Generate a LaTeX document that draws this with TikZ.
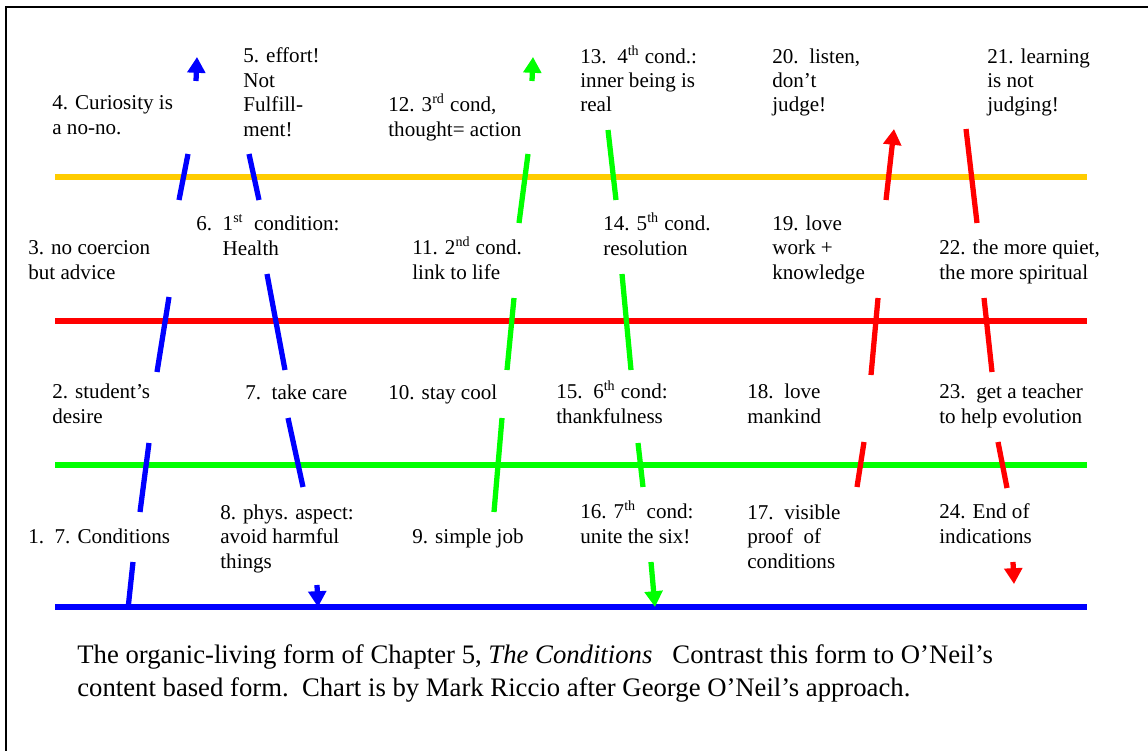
\documentclass[tikz,border=0pt]{standalone}
\usepackage{fontspec}
\setmainfont{Liberation Serif}
\usepackage{xcolor}
\usetikzlibrary{arrows.meta}
\definecolor{ochre}{RGB}{255,204,0}
\definecolor{fullred}{RGB}{255,0,0}
\definecolor{fullgreen}{RGB}{0,255,0}
\definecolor{fullblue}{RGB}{0,0,255}
\tikzset{
    lbl/.style={align=left, inner sep=0pt, anchor=base west, font=\fontsize{12}{13.9}\selectfont},
    capt/.style={align=left, inner sep=0pt, anchor=base west, font=\fontsize{15.2}{18.7}\selectfont},
    hline/.style={line width=3.4pt},
    stroke/.style={line width=3pt},
    tip/.style={-{Triangle[width=10pt,length=9pt]}},
}

\begin{document}
\begin{tikzpicture}[x=0.02cm, y=-0.02cm]
    \newcommand\yYel{177}
    \newcommand\yRed{321}
    \newcommand\yGrn{465}
    \newcommand\yBlu{607}

    \useasboundingbox (0,0) rectangle (1148,750);
    \draw[line width=1.1pt] (6,7) rectangle (1170,770);

    % the four levels
    \draw[hline, ochre] (55,\yYel) -- (1087,\yYel);
    \draw[hline, fullred] (55,\yRed) -- (1087,\yRed);
    \draw[hline, fullgreen] (55,\yGrn) -- (1087,\yGrn);
    \draw[hline, fullblue] (55,\yBlu) -- (1087,\yBlu);

    % blue strokes 1-8
    \draw[stroke, fullblue] (128,609) -- (133,562);
    \draw[stroke, fullblue] (140,512) -- (149,443);
    \draw[stroke, fullblue] (157,372) -- (169,297);
    \draw[stroke, fullblue] (179,200) -- (188,154);
    \draw[stroke, fullblue, tip] (196,81) -- (197,57);
    \draw[stroke, fullblue] (249,154) -- (259,200);
    \draw[stroke, fullblue] (267,274) -- (285,370);
    \draw[stroke, fullblue] (288,418) -- (303,487);
    \draw[stroke, fullblue, tip] (317,585) -- (318,607);

    % green strokes 9-16
    \draw[stroke, fullgreen] (494,512) -- (502,418);
    \draw[stroke, fullgreen] (507,370) -- (514,298);
    \draw[stroke, fullgreen] (519,223) -- (528,154);
    \draw[stroke, fullgreen, tip] (532,81) -- (533,57);
    \draw[stroke, fullgreen] (608,130) -- (616,200);
    \draw[stroke, fullgreen] (622,274) -- (631,370);
    \draw[stroke, fullgreen] (638,443) -- (643,487);
    \draw[stroke, fullgreen, tip] (651,562) -- (655,607);

    % red strokes 17-24
    \draw[stroke, fullred] (857,487) -- (864,442);
    \draw[stroke, fullred] (871,375) -- (878,298);
    \draw[stroke, fullred, tip] (886,200) -- (894,129);
    \draw[stroke, fullred] (966,129) -- (977,223);
    \draw[stroke, fullred] (984,298) -- (992,372);
    \draw[stroke, fullred] (998,442) -- (1007,488);
    \draw[stroke, fullred, tip] (1013,562) -- (1014,584);

    % labels above the yellow line (placed by their last line)
    \node[lbl] (n4) at (52,134) {4. Curiosity is\\a no-no.};
    \node[lbl] (n5) at (243,136) {5. effort!\\Not\\Fulfill-\\ment!};
    \node[lbl] (n12) at (388,136) {12. 3\textsuperscript{rd} cond,\\thought= action};
    \node[lbl] (n13) at (580,112) {13.\ \ 4\textsuperscript{th} cond.:\\inner being is\\real};
    \node[lbl] (n20) at (772,112) {20.\ \ listen,\\don't\\judge!};
    \node[lbl] (n21) at (987,112) {21. learning\\is not\\judging!};

    % labels between yellow and red
    \node[lbl] (n6) at (196,255) {6.\ \ 1\textsuperscript{st}\ \ condition:\\\phantom{6.\ \ }Health};
    \node[lbl] (n3) at (28,279) {3. no coercion\\but advice};
    \node[lbl] (n11) at (412,279) {11. 2\textsuperscript{nd} cond.\\link to life};
    \node[lbl] (n14) at (603,255) {14. 5\textsuperscript{th} cond.\\resolution};
    \node[lbl] (n19) at (772,279) {19. love\\work +\\knowledge};
    \node[lbl] (n22) at (939,279) {22. the more quiet,\\the more spiritual};

    % labels between red and green
    \node[lbl] (n2) at (52,423) {2. student's\\desire};
    \node[lbl] (n7) at (245,399) {7.\ \ take care};
    \node[lbl] (n10) at (388,399) {10. stay cool};
    \node[lbl] (n15) at (556,423) {15.\ \ 6\textsuperscript{th} cond:\\thankfulness};
    \node[lbl] (n18) at (747,423) {18.\ \ love\\mankind};
    \node[lbl] (n23) at (939,423) {23.\ \ get a teacher\\to help evolution};

    % labels between green and blue
    \node[lbl] (n1) at (28,543) {1.\ \ 7. Conditions};
    \node[lbl] (n8) at (220,568) {8. phys. aspect:\\avoid harmful\\things};
    \node[lbl] (n9) at (412,543) {9. simple job};
    \node[lbl] (n16) at (580,543) {16. 7\textsuperscript{th}\ \ cond:\\unite the six!};
    \node[lbl] (n17) at (747,568) {17.\ \ visible\\proof\ \ of\\conditions};
    \node[lbl] (n24) at (939,543) {24. End of\\indications};

    \node[capt] (cap) at (77,696) {The organic-living form of Chapter 5, \textit{The Conditions}\ \ \ Contrast this form to O'Neil's\\content based form.\ \ Chart is by Mark Riccio after George O'Neil's approach.};
\end{tikzpicture}
\end{document}
